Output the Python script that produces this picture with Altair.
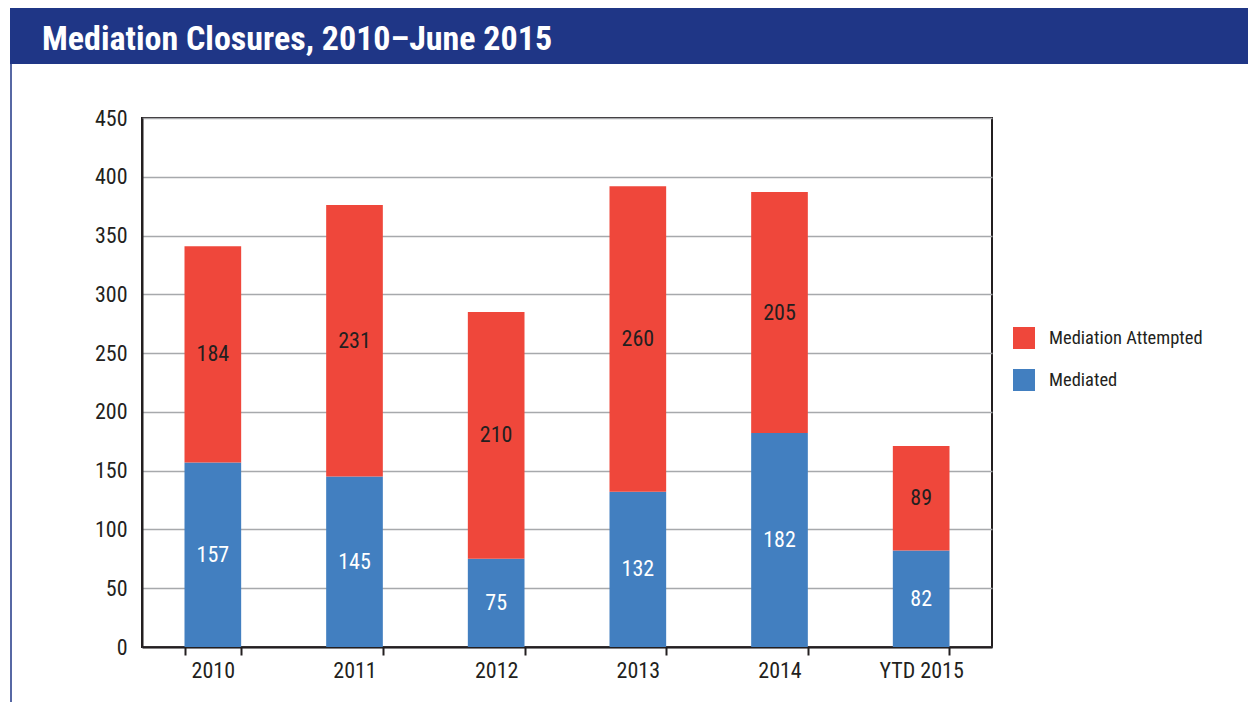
import altair as alt
import pandas as pd

title_text = "Mediation Closures, 2010\u2013June 2015"
years = ["2010", "2011", "2012", "2013", "2014", "YTD 2015"]
mediated = [157, 145, 75, 132, 182, 82]
attempted = [184, 231, 210, 260, 205, 89]
series_names = ["Mediation Attempted", "Mediated"]
series_colors = ["#ef473b", "#427fc0"]
y_ticks = [0, 50, 100, 150, 200, 250, 300, 350, 400, 450]

rows = []
for i, yr in enumerate(years):
    rows.append({"year": yr, "series": "Mediated", "value": mediated[i], "ord": 0})
    rows.append({"year": yr, "series": "Mediation Attempted", "value": attempted[i], "ord": 1})
df = pd.DataFrame(rows)

FONT = "Roboto Condensed, DejaVu Sans Condensed, sans-serif"
DARK = "#231f20"
BANNER = "#1f3686"

W, H = 850, 529

base = alt.Chart(df).transform_stack(
    stack="value", groupby=["year"], as_=["v0", "v1"],
    sort=[alt.SortField("ord", order="ascending")]
).transform_calculate(mid="(datum.v0 + datum.v1) / 2")

xenc = alt.X("year:N", sort=years, title=None,
             scale=alt.Scale(paddingInner=0.6, paddingOuter=0.3),
             axis=alt.Axis(labelAngle=0, labelFont=FONT, labelFontSize=22, labelColor=DARK,
                           tickBand="extent", tickSize=8, tickColor=DARK, tickWidth=2,
                           domainColor=DARK, domainWidth=2, labelPadding=5, grid=False))

bars = base.mark_bar().encode(
    x=xenc,
    y=alt.Y("v0:Q", title=None, scale=alt.Scale(domain=[0, 450], nice=False),
            axis=alt.Axis(values=y_ticks, labelFont=FONT, labelFontSize=22, labelColor=DARK,
                          tickSize=0, labelPadding=15, domainColor=DARK, domainWidth=2,
                          gridColor="#a7a9ac", gridWidth=1.5)),
    y2="v1:Q",
    color=alt.Color("series:N", title=None,
                    scale=alt.Scale(domain=series_names, range=series_colors),
                    legend=alt.Legend(orient="none", legendX=871, legendY=209,
                                      symbolType="square", symbolSize=484, symbolStrokeWidth=0,
                                      symbolOpacity=1, labelFont=FONT, labelFontSize=18.5,
                                      labelColor=DARK, labelOffset=14, rowPadding=20)),
)

labels = base.mark_text(font=FONT, fontSize=22, baseline="middle").encode(
    x=alt.X("year:N", sort=years),
    y=alt.Y("mid:Q"),
    text=alt.Text("value:Q"),
    color=alt.condition(alt.datum.series == "Mediated", alt.value("white"), alt.value(DARK)),
)

tdf = pd.DataFrame({"t": [title_text]})
banner = alt.Chart(tdf).mark_rect(color=BANNER).encode(
    x=alt.value(-132), x2=alt.value(1106), y=alt.value(-110), y2=alt.value(-54))
left_line = alt.Chart(tdf).mark_rule(color=BANNER, strokeWidth=1.5).encode(
    x=alt.value(-131), y=alt.value(-54), y2=alt.value(600))
title = alt.Chart(tdf).mark_text(font=FONT, fontSize=34, fontWeight="bold", color="white",
                                 align="left", baseline="alphabetic").encode(
    x=alt.value(-100), y=alt.value(-68), text="t:N")

chart = alt.layer(bars, labels, banner, left_line, title).properties(
    width=W, height=H,
    autosize=alt.AutoSizeParams(type="none"),
    padding={"left": 134, "top": 110, "right": 256, "bottom": 55},
).configure_view(stroke=DARK, strokeWidth=2).resolve_scale(color="independent")

chart.save("out.html", embed_options={"renderer": "svg", "actions": False})
